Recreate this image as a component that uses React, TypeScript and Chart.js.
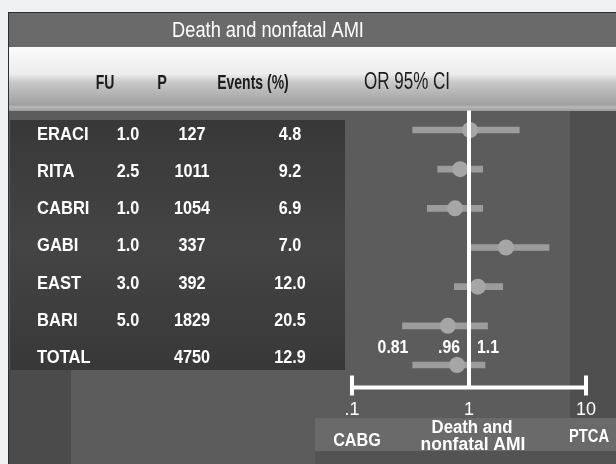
import { useEffect, useRef } from 'react';
import { Chart, registerables } from 'chart.js';

Chart.register(...registerables);

// ---- data ----
const chartTitle = 'Death and nonfatal AMI';
const studies = ['ERACI', 'RITA', 'CABRI', 'GABI', 'EAST', 'BARI', 'TOTAL'];
const followUp = ['1.0', '2.5', '1.0', '1.0', '3.0', '5.0', ''];
const patients = ['127', '1011', '1054', '337', '392', '1829', '4750'];
const eventsPct = ['4.8', '9.2', '6.9', '7.0', '12.0', '20.5', '12.9'];
const oddsRatio = [1.02, 0.84, 0.76, 2.07, 1.19, 0.66, 0.79];
const ciLow = [0.33, 0.54, 0.44, 1.04, 0.75, 0.27, 0.33];
const ciHigh = [2.69, 1.31, 1.31, 4.83, 1.94, 1.44, 1.37];
const tickValues = [0.1, 1, 10];
const tickLabels = ['.1', '1', '10'];
const pooledLabels = ['0.81', '.96', '1.1'];
const columnHeaders = ['FU', 'P', 'Events (%)'];
const ciHeader = 'OR 95% CI';
const leftSideLabel = 'CABG';
const rightSideLabel = 'PTCA';
const axisTitleLines = ['Death and', 'nonfatal AMI'];
const referenceValue = 1;

const SANS = '"Liberation Sans", Arial, Helvetica, sans-serif';

function drawText(
  ctx: CanvasRenderingContext2D,
  text: string,
  x: number,
  y: number,
  font: string,
  sx: number,
  align: CanvasTextAlign = 'center'
) {
  ctx.save();
  ctx.font = font;
  ctx.textAlign = align;
  ctx.textBaseline = 'middle';
  ctx.translate(x, y);
  ctx.scale(sx, 1);
  ctx.fillText(text, 0, 0);
  ctx.restore();
}

const backgroundPlugin = {
  id: 'panelBackground',
  beforeDraw(chart: any) {
    const ctx = chart.ctx as CanvasRenderingContext2D;
    ctx.save();
    ctx.fillStyle = '#f0f1f3';
    ctx.fillRect(0, 0, 616, 464);
    ctx.fillStyle = '#2e2e2e';
    ctx.fillRect(8, 12, 608, 452);
    ctx.fillStyle = '#6a6a6a';
    ctx.fillRect(9, 13, 607, 34);
    const g = ctx.createLinearGradient(0, 47, 0, 111);
    g.addColorStop(0, '#fbfbfb');
    g.addColorStop(0.42, '#ededed');
    g.addColorStop(0.55, '#c8c8c8');
    g.addColorStop(0.9, '#a0a0a0');
    g.addColorStop(0.94, '#b8b8b8');
    g.addColorStop(1, '#9a9a9a');
    ctx.fillStyle = g;
    ctx.fillRect(9, 47, 607, 64);
    ctx.fillStyle = '#5c5c5c';
    ctx.fillRect(9, 111, 607, 353);
    ctx.fillStyle = '#4f4f4f';
    ctx.fillRect(570, 111, 46, 307);
    const tg = ctx.createLinearGradient(0, 120, 0, 370);
    tg.addColorStop(0, '#383838');
    tg.addColorStop(0.5, '#444444');
    tg.addColorStop(1, '#383838');
    ctx.fillStyle = tg;
    ctx.fillRect(10, 120, 335, 250);
    ctx.fillStyle = '#4b4b4b';
    ctx.fillRect(9, 370, 62, 94);
    ctx.fillStyle = '#6a6a6a';
    ctx.fillRect(315, 418, 301, 33);
    ctx.fillStyle = '#535353';
    ctx.fillRect(315, 451, 301, 13);
    ctx.restore();
  },
};

const axisPlugin = {
  id: 'forestAxis',
  afterDatasetsDraw(chart: any) {
    const ctx = chart.ctx as CanvasRenderingContext2D;
    const xs = chart.scales.x;
    const area = chart.chartArea;
    const axisY = area.bottom + 3;
    const x0 = xs.getPixelForValue(tickValues[0]);
    const x1 = xs.getPixelForValue(tickValues[tickValues.length - 1]);
    const xr = xs.getPixelForValue(referenceValue);
    ctx.save();
    ctx.strokeStyle = '#ffffff';
    ctx.lineCap = 'butt';
    ctx.lineWidth = 4;
    ctx.beginPath();
    ctx.moveTo(xr, area.top);
    ctx.lineTo(xr, axisY);
    ctx.stroke();
    ctx.beginPath();
    ctx.moveTo(x0, axisY);
    ctx.lineTo(x1, axisY);
    ctx.stroke();
    ctx.beginPath();
    ctx.moveTo(x0, axisY - 12);
    ctx.lineTo(x0, axisY + 8);
    ctx.moveTo(x1, axisY - 12);
    ctx.lineTo(x1, axisY + 8);
    ctx.stroke();
    ctx.restore();
  },
};

const textPlugin = {
  id: 'tableText',
  afterDraw(chart: any) {
    const ctx = chart.ctx as CanvasRenderingContext2D;
    ctx.save();
    ctx.fillStyle = '#ffffff';
    drawText(ctx, chartTitle, 268, 31, `22px ${SANS}`, 0.83);

    ctx.fillStyle = '#1c1c1c';
    drawText(ctx, columnHeaders[0], 105, 83, `bold 20px ${SANS}`, 0.7);
    drawText(ctx, columnHeaders[1], 162, 83, `bold 20px ${SANS}`, 0.72);
    drawText(ctx, columnHeaders[2], 253, 83, `bold 20px ${SANS}`, 0.7);
    drawText(ctx, ciHeader, 407, 83, `23px ${SANS}`, 0.74);

    ctx.fillStyle = '#ffffff';
    const firstRowY = 135;
    const lastRowY = 358;
    const step = (lastRowY - firstRowY) / (studies.length - 1);
    studies.forEach((name, i) => {
      const y = firstRowY + i * step;
      drawText(ctx, name, 37, y, `bold 18px ${SANS}`, 0.92, 'left');
      drawText(ctx, followUp[i], 128, y, `bold 18px ${SANS}`, 0.9);
      drawText(ctx, patients[i], 192, y, `bold 18px ${SANS}`, 0.9);
      drawText(ctx, eventsPct[i], 290, y, `bold 18px ${SANS}`, 0.9);
    });

    drawText(ctx, pooledLabels[0], 393, 348, `bold 18px ${SANS}`, 0.88);
    drawText(ctx, pooledLabels[1], 449, 348, `bold 18px ${SANS}`, 0.88);
    drawText(ctx, pooledLabels[2], 488, 348, `bold 18px ${SANS}`, 0.88);

    drawText(ctx, axisTitleLines[0], 472, 428, `bold 18px ${SANS}`, 0.93);
    drawText(ctx, axisTitleLines[1], 473, 445, `bold 18px ${SANS}`, 0.97);
    drawText(ctx, leftSideLabel, 357, 441, `bold 18px ${SANS}`, 0.9);
    drawText(ctx, rightSideLabel, 589, 437, `bold 18px ${SANS}`, 0.82);
    ctx.restore();
  },
};

export default function App() {
  const canvasRef = useRef<HTMLCanvasElement | null>(null);

  useEffect(() => {
    const canvas = canvasRef.current;
    if (!canvas) return;
    const chart = new Chart(canvas, {
      type: 'bar',
      data: {
        labels: studies,
        datasets: [
          {
            type: 'line',
            label: 'OR',
            data: oddsRatio,
            indexAxis: 'y',
            showLine: false,
            pointRadius: 8,
            pointHoverRadius: 8,
            pointBackgroundColor: '#a6a6a6',
            pointBorderColor: '#a6a6a6',
            pointBorderWidth: 0,
            order: 0,
          } as any,
          {
            type: 'bar',
            label: '95% CI',
            data: studies.map((_, i) => [ciLow[i], ciHigh[i]]),
            backgroundColor: '#9c9c9c',
            borderWidth: 0,
            barThickness: 6,
            order: 1,
          } as any,
        ],
      },
      options: {
        indexAxis: 'y',
        animation: false,
        responsive: false,
        events: [],
        layout: { padding: { left: 352, right: 30, top: 110.4, bottom: 39.4 } },
        plugins: {
          legend: { display: false },
          tooltip: { enabled: false },
          title: { display: false },
        },
        scales: {
          x: {
            type: 'logarithmic',
            min: 0.1,
            max: 10,
            grid: { display: false },
            border: { display: false },
            afterBuildTicks: (scale: any) => {
              scale.ticks = tickValues.map((v) => ({ value: v }));
            },
            afterFit: (scale: any) => {
              scale.height = 40;
            },
            ticks: {
              color: '#ffffff',
              font: { family: SANS, size: 18 },
              padding: 7,
              autoSkip: false,
              maxRotation: 0,
              callback: (value: any) => {
                const idx = tickValues.indexOf(Number(value));
                return idx >= 0 ? tickLabels[idx] : '';
              },
            },
          },
          y: {
            type: 'category',
            display: false,
            offset: true,
            grid: { display: false },
          },
        },
      },
      plugins: [backgroundPlugin, axisPlugin, textPlugin],
    } as any);
    return () => chart.destroy();
  }, []);

  return (
    <div style={{ position: 'fixed', left: 0, top: 0, width: 616, height: 464 }}>
      <canvas ref={canvasRef} width={616} height={464} style={{ display: 'block' }} />
    </div>
  );
}
